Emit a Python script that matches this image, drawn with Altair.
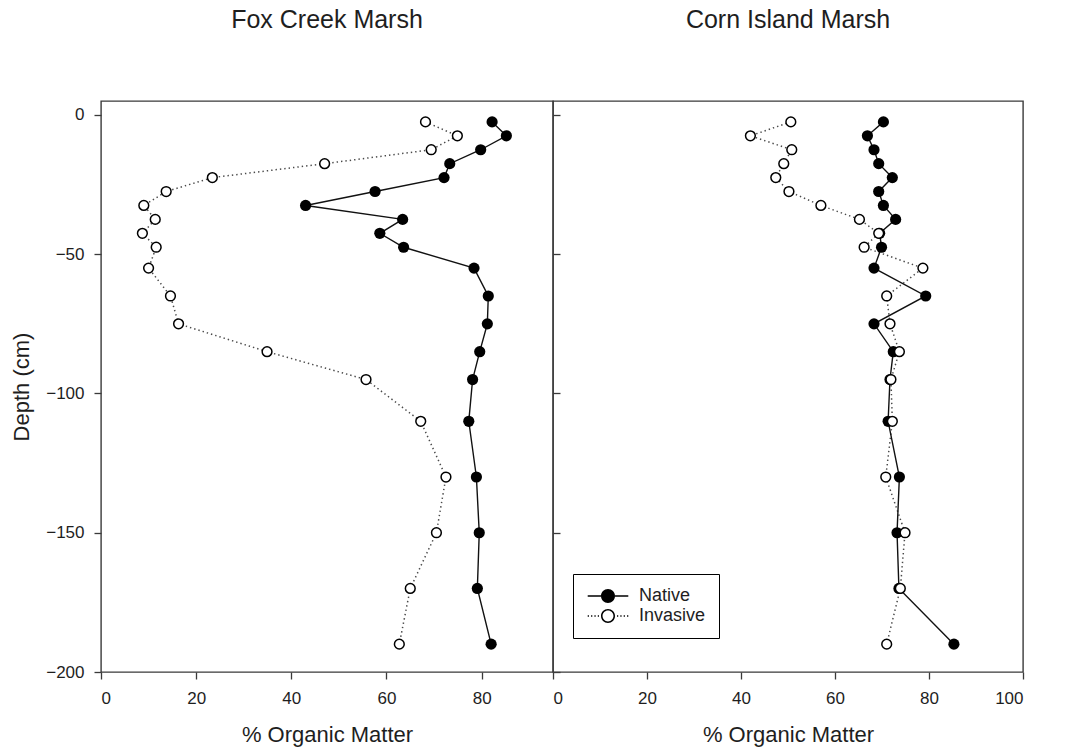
import altair as alt
import pandas as pd

# ---- data ----
depths = [-2.5, -7.5, -12.5, -17.5, -22.5, -27.5, -32.5, -37.5, -42.5, -47.5,
          -55, -65, -75, -85, -95, -110, -130, -150, -170, -190]
fox_native = [82.2, 85.2, 79.8, 73.3, 72.1, 57.6, 43.0, 63.4, 58.6, 63.6,
              78.4, 81.4, 81.2, 79.6, 78.1, 77.3, 78.9, 79.5, 79.1, 82.0]
fox_invasive = [68.2, 74.9, 69.4, 47.0, 23.4, 13.7, 9.0, 11.4, 8.7, 11.6,
                10.0, 14.6, 16.3, 34.9, 55.7, 67.2, 72.5, 70.5, 65.0, 62.7]
corn_native = [70.3, 66.9, 68.3, 69.3, 72.2, 69.3, 70.3, 72.9, 69.5, 69.9,
               68.3, 79.3, 68.3, 72.4, 71.7, 71.3, 73.7, 73.2, 73.6, 85.3]
corn_invasive = [50.6, 42.0, 50.8, 49.1, 47.4, 50.2, 57.0, 65.2, 69.3, 66.2,
                 78.7, 71.0, 71.7, 73.7, 71.9, 72.2, 70.8, 74.9, 73.9, 71.0]

sites = ["Fox Creek Marsh", "Corn Island Marsh"]
types = ["Native", "Invasive"]
y_ticks = [0, -50, -100, -150, -200]
fox_x_ticks = [0, 20, 40, 60, 80]
corn_x_ticks = [0, 20, 40, 60, 80, 100]

rows = []
for site, series in [(sites[0], {"Native": fox_native, "Invasive": fox_invasive}),
                     (sites[1], {"Native": corn_native, "Invasive": corn_invasive})]:
    for t, vals in series.items():
        for d, v in zip(depths, vals):
            rows.append({"site": site, "type": t, "depth": d, "om": v})
df = pd.DataFrame(rows)

FONT = "Liberation Sans"
TXT = "#1e1e1e"
AX = "#3a3a3a"


# legend glyphs drawn purely as filled shapes (unit space, scaled by symbol size)
def disc(r, cw=True):
    s = 1 if cw else 0
    return f"M{-r},0A{r},{r},0,1,{s},{r},0A{r},{r},0,1,{s},{-r},0Z"


def rect(x0, x1, h):
    return f"M{x0},{-h}L{x1},{-h}L{x1},{h}L{x0},{h}Z"


native_sym = rect(-2.9, -1.0, 0.1) + rect(1.0, 2.9, 0.1) + disc(1.0)
dots = [(-2.9, -2.72), (-2.42, -2.24), (-1.94, -1.76), (-1.46, -1.28),
        (1.28, 1.46), (1.76, 1.94), (2.24, 2.42), (2.72, 2.9)]
invasive_sym = "".join(rect(a, b, 0.09) for a, b in dots) + disc(1.0) + disc(0.78, cw=False)


def panel(site, xmax, xticks, first, w):
    base = alt.Chart(df).transform_filter(alt.datum.site == site)
    x = alt.X("om:Q",
              scale=alt.Scale(domain=[0, xmax], nice=False, zero=False),
              axis=alt.Axis(values=xticks, title="% Organic Matter", format="d"))
    if first:
        yaxis = alt.Axis(values=y_ticks, title="Depth (cm)", format="d")
    else:
        yaxis = alt.Axis(values=y_ticks, title=None, labels=False, offset=-7)
    y = alt.Y("depth:Q", scale=alt.Scale(domain=[-200, 5], nice=False, zero=False), axis=yaxis)
    order = alt.Order("depth:Q", sort="descending")

    nat = base.transform_filter(alt.datum.type == "Native")
    inv = base.transform_filter(alt.datum.type == "Invasive")

    inv_line = inv.mark_line(color="#4a4a4a", strokeDash=[1.4, 3], strokeWidth=1.5).encode(x=x, y=y, order=order)
    nat_line = nat.mark_line(color="#111", strokeWidth=1.4).encode(x=x, y=y, order=order)
    nat_pts = nat.mark_circle(color="#000", size=125, opacity=1).encode(x=x, y=y)
    inv_pts = inv.mark_point(fill="white", stroke="#000", strokeWidth=1.5, size=95, opacity=1, filled=False).encode(x=x, y=y)

    layers = [inv_line, nat_line, nat_pts, inv_pts]
    if not first:
        leg = base.transform_filter("false").mark_point(
            filled=True, color="#000", size=196, opacity=1).encode(
            shape=alt.Shape("type:N",
                            scale=alt.Scale(domain=types, range=[native_sym, invasive_sym]),
                            legend=alt.Legend(title=None, orient="none",
                                              legendX=20, legendY=473)),
        )
        layers.append(leg)

    return alt.layer(*layers).properties(
        width=w, height=571,
        title=alt.TitleParams(site, fontSize=25, font=FONT, fontWeight="normal",
                              anchor="middle", frame="group", baseline="alphabetic",
                              offset=48, color=TXT),
    )


left = panel(sites[0], 95, fox_x_ticks, True, 452)
right = panel(sites[1], 100, corn_x_ticks, False, 470)

chart = alt.hconcat(left, right, spacing=0, bounds="flush").resolve_scale(
    shape="independent"
).resolve_legend(
    shape="independent"
).configure_view(
    stroke=AX, strokeWidth=1.4
).configure_axis(
    grid=False, domain=False,
    tickColor=AX, tickSize=7, tickWidth=1.3,
    labelFont=FONT, labelFontSize=17, labelColor=TXT,
    titleFont=FONT, titleFontSize=22, titleFontWeight="normal", titleColor=TXT,
).configure_axisX(
    labelPadding=11, titlePadding=18,
).configure_axisY(
    labelPadding=10, titlePadding=12,
).configure_legend(
    labelFont=FONT, labelFontSize=18, labelColor=TXT,
    padding=13, rowPadding=2, strokeColor="#000", fillColor="white",
    symbolSize=196, symbolOffset=13, labelOffset=22,
    symbolFillColor="#000", symbolStrokeWidth=0,
).properties(
    padding={"left": 10, "top": 7, "right": 40, "bottom": 5}
)

chart.save("out.html", embed_options={"renderer": "svg", "actions": False})
